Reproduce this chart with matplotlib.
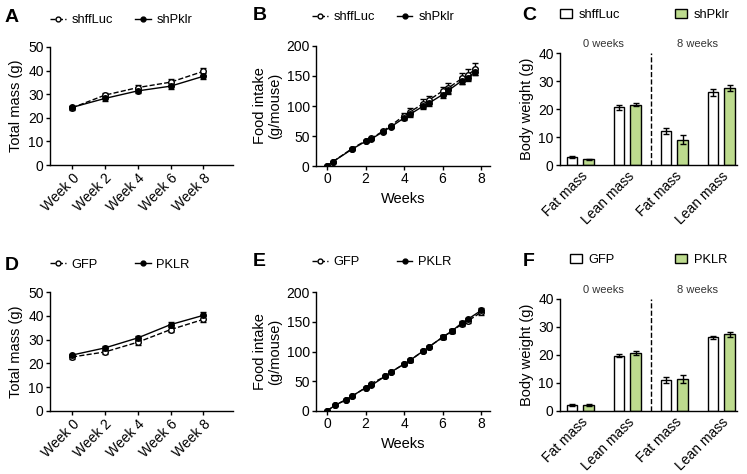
import numpy as np
import matplotlib.pyplot as plt
from matplotlib.lines import Line2D
from matplotlib.patches import Patch

plt.rcParams['font.family'] = ['Liberation Sans', 'DejaVu Sans']
plt.rcParams['axes.linewidth'] = 1.0
plt.rcParams['xtick.major.width'] = 1.0
plt.rcParams['ytick.major.width'] = 1.0
plt.rcParams['xtick.major.size'] = 3
plt.rcParams['ytick.major.size'] = 3

GREEN = '#bddb8e'

# ---- data ----
weeks_cat = ['Week 0', 'Week 2', 'Week 4', 'Week 6', 'Week 8']

# A: total mass
a_ctrl = [24.2, 29.6, 32.8, 35.1, 39.7]
a_ctrl_err = [0.7, 1.0, 1.1, 1.3, 1.4]
a_trt = [24.4, 28.2, 31.4, 33.4, 37.6]
a_trt_err = [0.6, 0.9, 1.0, 1.2, 1.3]

# D: total mass
d_ctrl = [22.7, 24.8, 28.9, 34.2, 38.5]
d_ctrl_err = [0.7, 0.9, 1.0, 1.2, 1.3]
d_trt = [23.5, 26.5, 30.7, 36.3, 40.2]
d_trt_err = [0.6, 0.9, 1.0, 1.2, 1.5]

# B: food intake
b_x = [0, 0.3, 1.3, 2.0, 2.3, 2.9, 3.3, 4.0, 4.3, 5.0, 5.3, 6.0, 6.3, 7.0, 7.3, 7.7]
b_ctrl = [0, 7, 29, 42, 46, 58, 67, 84, 90, 104, 110, 125, 130, 146, 152, 161]
b_ctrl_err = [0, 0.5, 1, 1.5, 1.5, 2, 2, 5, 6, 7, 7, 7, 8, 9, 9, 10]
b_trt = [0, 7, 28, 41, 45, 57, 65, 80, 86, 100, 105, 119, 126, 142, 147, 157]
b_trt_err = [0, 0.5, 1, 1.5, 1.5, 2, 2, 3, 4, 5, 5, 5, 6, 6, 6, 6]

# E: food intake
e_x = [0, 0.43, 1.0, 1.3, 2.0, 2.3, 3.0, 3.3, 4.0, 4.3, 5.0, 5.3, 6.0, 6.47, 7.0, 7.3, 8.0]
e_ctrl = [0, 10, 19, 25, 39, 46, 58, 65, 79, 85, 101, 108, 124, 134, 146, 151, 166]
e_ctrl_err = [0, 0.5, 1, 1, 1, 1, 1.5, 1.5, 2, 2, 2, 2, 3, 3, 3, 3, 4]
e_trt = [0, 10, 19, 25, 39, 43, 58, 65, 79, 85, 101, 108, 124, 134, 148, 154, 169]
e_trt_err = [0, 0.5, 1, 1, 1, 1, 1.5, 1.5, 2, 2, 2, 2, 3, 3, 3, 3, 4]

# C, F: body composition
comp_cat = ['Fat mass', 'Lean mass', 'Fat mass', 'Lean mass']
c_ctrl = [2.9, 20.6, 12.2, 26.0]
c_ctrl_err = [0.4, 1.0, 1.0, 1.2]
c_trt = [2.0, 21.6, 9.1, 27.5]
c_trt_err = [0.3, 0.7, 1.5, 1.1]
f_ctrl = [2.2, 19.8, 11.1, 26.3]
f_ctrl_err = [0.3, 0.6, 1.2, 0.6]
f_trt = [2.2, 20.7, 11.5, 27.4]
f_trt_err = [0.3, 0.6, 1.4, 0.9]

fig = plt.figure(figsize=(7.47, 4.74), dpi=100)
W, H = 747, 474


def add_ax(l, t, r, b):
    return fig.add_axes([l / W, 1 - b / H, (r - l) / W, (b - t) / H])


def style(ax):
    ax.spines['top'].set_visible(False)
    ax.spines['right'].set_visible(False)
    ax.tick_params(labelsize=10, pad=1.5)


def legend_item(handle, label, x, y, **kw):
    # one legend entry placed at pixel position (x, y) of the figure
    opts = dict(frameon=False, fontsize=9.3, handlelength=1.2, handleheight=0.8,
                handletextpad=0.45, borderaxespad=0, borderpad=0)
    opts.update(kw)
    fig.legend([handle], [label], loc='center left',
               bbox_to_anchor=(x / W, 1 - y / H), bbox_transform=fig.transFigure, **opts)


def line_panel(ax, x, ctrl, ctrl_err, trt, trt_err, labels, lx, ly):
    ax.errorbar(x, ctrl, yerr=ctrl_err, color='black', ls='--', lw=1,
                marker='o', ms=4, mfc='white', mec='black', mew=1,
                capsize=2.5, elinewidth=1)
    ax.errorbar(x, trt, yerr=trt_err, color='black', ls='-', lw=1,
                marker='o', ms=4, mfc='black', mec='black',
                capsize=2.5, elinewidth=1)
    style(ax)
    h1 = Line2D([], [], color='black', ls='--', lw=1, marker='o', ms=3.5,
                mfc='white', mec='black')
    h2 = Line2D([], [], color='black', ls='-', lw=1, marker='o', ms=3.5,
                mfc='black', mec='black')
    legend_item(h1, labels[0], lx, ly)
    legend_item(h2, labels[1], lx + 85, ly)


def bar_panel(ax, ctrl, ctrl_err, trt, trt_err, labels, lx, ly):
    pos = np.arange(len(comp_cat))
    w = 0.225
    off = 0.176
    ax.bar(pos - off, ctrl, w, yerr=ctrl_err, color='white', edgecolor='black',
           lw=1, capsize=2.5, error_kw=dict(elinewidth=1, capthick=1))
    ax.bar(pos + off, trt, w, yerr=trt_err, color=GREEN, edgecolor='black',
           lw=1, capsize=2.5, error_kw=dict(elinewidth=1, capthick=1))
    ax.set_xlim(-0.43, 3.33)
    ax.set_ylim(0, 40)
    ax.set_yticks([0, 10, 20, 30, 40])
    ax.set_xticks(pos)
    ax.set_xticklabels(comp_cat, rotation=45, ha='right', rotation_mode='anchor')
    ax.axvline(1.51, color='black', ls='--', lw=1)
    ax.set_ylabel('Body weight (g)', fontsize=10.5, labelpad=3)
    style(ax)
    ax.tick_params(axis='x', length=0, pad=3)
    ax.text(0.5, 41.5, '0 weeks', ha='center', va='bottom', fontsize=8, color='#333333')
    ax.text(2.5, 41.5, '8 weeks', ha='center', va='bottom', fontsize=8, color='#333333')
    h1 = Patch(facecolor='white', edgecolor='black', lw=1)
    h2 = Patch(facecolor=GREEN, edgecolor='black', lw=1)
    legend_item(h1, labels[0], lx, ly, handlelength=0.9, handleheight=0.7, handletextpad=0.55)
    legend_item(h2, labels[1], 675, ly, handlelength=0.9, handleheight=0.7, handletextpad=0.55)


# A
axA = add_ax(50, 47, 233, 165)
line_panel(axA, np.arange(5), a_ctrl, a_ctrl_err, a_trt, a_trt_err, ['shffLuc', 'shPklr'], 50, 20)
axA.set_xlim(-0.67, 4.9)
axA.set_ylim(0, 50)
axA.set_yticks([0, 10, 20, 30, 40, 50])
axA.set_xticks(np.arange(5))
axA.set_xticklabels(weeks_cat, rotation=45, ha='right', rotation_mode='anchor')
axA.set_ylabel('Total mass (g)', fontsize=10.5, labelpad=4)

# B
axB = add_ax(316, 46, 490, 166)
line_panel(axB, b_x, b_ctrl, b_ctrl_err, b_trt, b_trt_err, ['shffLuc', 'shPklr'], 312, 17)
axB.set_xlim(-0.57, 8.46)
axB.set_ylim(0, 200)
axB.set_yticks([0, 50, 100, 150, 200])
axB.set_xticks([0, 2, 4, 6, 8])
axB.set_xlabel('Weeks', fontsize=10.5, labelpad=4)
axB.set_ylabel('Food intake\n(g/mouse)', fontsize=10.5, labelpad=3, linespacing=1.1)

# C
axC = add_ax(560, 53, 737, 165)
bar_panel(axC, c_ctrl, c_ctrl_err, c_trt, c_trt_err, ['shffLuc', 'shPklr'], 560, 15)

# D
axD = add_ax(50, 292, 233, 411)
line_panel(axD, np.arange(5), d_ctrl, d_ctrl_err, d_trt, d_trt_err, ['GFP', 'PKLR'], 50, 265)
axD.set_xlim(-0.67, 4.9)
axD.set_ylim(0, 50)
axD.set_yticks([0, 10, 20, 30, 40, 50])
axD.set_xticks(np.arange(5))
axD.set_xticklabels(weeks_cat, rotation=45, ha='right', rotation_mode='anchor')
axD.set_ylabel('Total mass (g)', fontsize=10.5, labelpad=4)

# E
axE = add_ax(316, 292, 490, 411)
line_panel(axE, e_x, e_ctrl, e_ctrl_err, e_trt, e_trt_err, ['GFP', 'PKLR'], 312, 262)
axE.set_xlim(-0.57, 8.46)
axE.set_ylim(0, 200)
axE.set_yticks([0, 50, 100, 150, 200])
axE.set_xticks([0, 2, 4, 6, 8])
axE.set_xlabel('Weeks', fontsize=10.5, labelpad=4)
axE.set_ylabel('Food intake\n(g/mouse)', fontsize=10.5, labelpad=3, linespacing=1.1)

# F
axF = add_ax(560, 299, 737, 411)
bar_panel(axF, f_ctrl, f_ctrl_err, f_trt, f_trt_err, ['GFP', 'PKLR'], 570, 260)

# panel letters
for lbl, x, y in [('A', 5, 17), ('B', 253, 16), ('C', 522, 15),
                  ('D', 5, 265), ('E', 253, 262), ('F', 523, 262)]:
    fig.text(x / W, 1 - y / H, lbl, fontsize=14, fontweight='bold', va='center', ha='left')

fig.savefig('out.png', dpi=100)
